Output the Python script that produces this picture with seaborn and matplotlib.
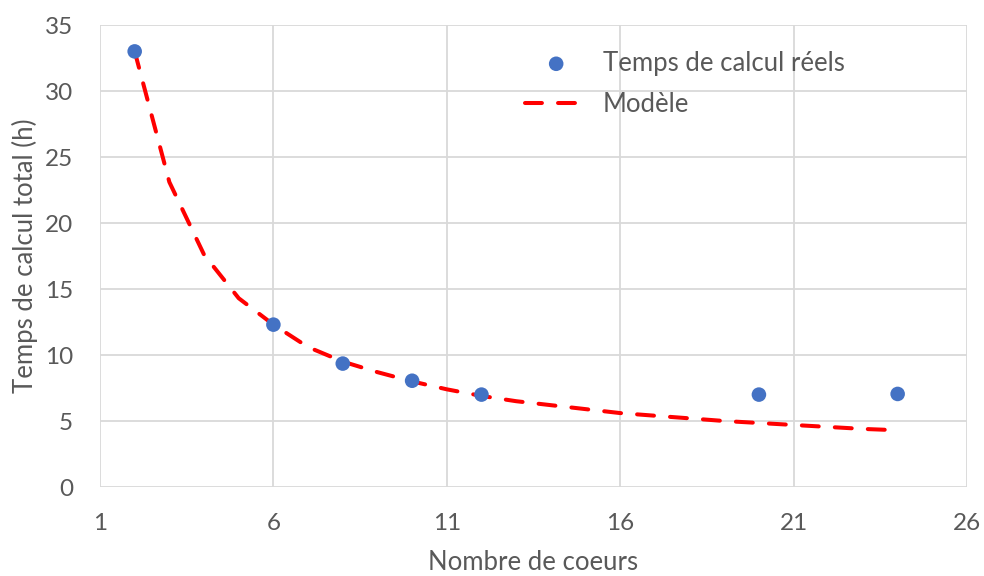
import matplotlib
matplotlib.use("Agg")
import matplotlib.pyplot as plt
import seaborn as sns
import pandas as pd

# Data
cores = [2, 6, 8, 10, 12, 20, 24]
times = [33.0, 12.3, 9.35, 8.05, 7.0, 7.0, 7.05]

model_x = list(range(2, 25))
model_y = [33.0, 23.1, 17.6, 14.3, 12.3, 10.6, 9.5, 8.7, 8.0, 7.4, 6.9, 6.5,
           6.2, 5.9, 5.6, 5.4, 5.2, 5.0, 4.85, 4.7, 4.55, 4.4, 4.3]

xticks = [1, 6, 11, 16, 21, 26]
yticks = [0, 5, 10, 15, 20, 25, 30, 35]

sns.set_theme(style="white")
plt.rcParams['font.family'] = ['Lato', 'DejaVu Sans']

FS = 18.5
FT = 17.5
TXT = "#595959"

fig = plt.figure(figsize=(9.84, 5.76), dpi=100)
ax = fig.add_axes([100/984, 89/576, 867/984, 462/576])

df_pts = pd.DataFrame({"x": cores, "y": times})
df_mod = pd.DataFrame({"x": model_x, "y": model_y})

sns.lineplot(data=df_mod, x="x", y="y", ax=ax, color="#FF0000", linewidth=2.9,
             dashes=False, label="Modèle", zorder=3)
line = ax.get_lines()[-1]
line.set_dashes((4.2, 4.0))
line.set_dash_capstyle("round")
line.set_solid_joinstyle("round")
sns.scatterplot(data=df_pts, x="x", y="y", ax=ax, color="#4472C4", s=110,
                edgecolor="none", label="Temps de calcul réels", zorder=4)

ax.set_xlim(1, 26)
ax.set_ylim(0, 35)
ax.set_xticks(xticks)
ax.set_yticks(yticks)
ax.grid(True, color="#D9D9D9", linewidth=1.3)
ax.set_axisbelow(True)
for s in ax.spines.values():
    s.set_visible(False)
ax.tick_params(axis="both", length=0, labelsize=FT, labelcolor=TXT)
ax.tick_params(axis="y", pad=19.5)
ax.tick_params(axis="x", pad=18.5)
ax.set_xlabel("Nombre de coeurs", fontsize=FS, color=TXT, labelpad=12)
ax.set_ylabel("Temps de calcul total (h)", fontsize=FS, color=TXT, labelpad=5)

handles, labels = ax.get_legend_handles_labels()
order = [labels.index("Temps de calcul réels"), labels.index("Modèle")]
leg = ax.legend([handles[i] for i in order], [labels[i] for i in order],
                loc="upper left", bbox_to_anchor=(0.478, 0.967), frameon=False,
                fontsize=FS, labelcolor=TXT, handlelength=2.45,
                handletextpad=0.6, labelspacing=0.63, borderaxespad=0)

fig.savefig("out.png", dpi=100)
